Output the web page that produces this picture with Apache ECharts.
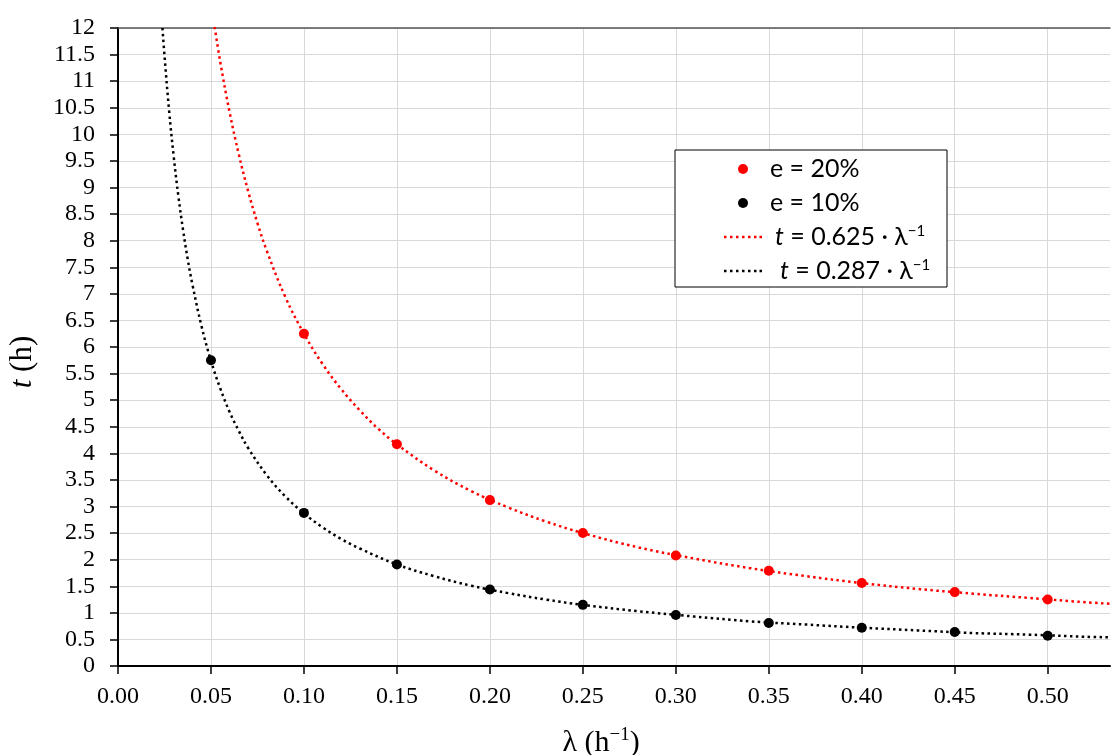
<!DOCTYPE html>
<html>
<head>
<meta charset="utf-8">
<script src="https://cdn.jsdelivr.net/npm/echarts@6/dist/echarts.min.js"></script>
<style>
html,body{margin:0;padding:0;background:#fff;}
#c{width:1111px;height:755px;}
</style>
</head>
<body>
<div id="c"></div>
<script>
// Measured points
const lambdaPts = [0.05, 0.10, 0.15, 0.20, 0.25, 0.30, 0.35, 0.40, 0.45, 0.50];
const t20 = [null, 6.25, 4.17, 3.12, 2.50, 2.08, 1.79, 1.56, 1.39, 1.25];
const t10 = [5.75, 2.88, 1.91, 1.44, 1.15, 0.96, 0.81, 0.72, 0.64, 0.57];

// Fitted curves
const fit20Lambda = [0.052, 0.055, 0.06, 0.065, 0.07, 0.075, 0.08, 0.09, 0.10, 0.11, 0.12, 0.13, 0.14, 0.15, 0.17, 0.19, 0.21, 0.23, 0.25, 0.28, 0.31, 0.34, 0.37, 0.40, 0.43, 0.46, 0.49, 0.52, 0.534];
const fit20T = [12.02, 11.36, 10.42, 9.62, 8.93, 8.33, 7.81, 6.94, 6.25, 5.68, 5.21, 4.81, 4.46, 4.17, 3.68, 3.29, 2.98, 2.72, 2.50, 2.23, 2.02, 1.84, 1.69, 1.56, 1.45, 1.36, 1.28, 1.20, 1.17];
const fit10Lambda = [0.0239, 0.025, 0.0275, 0.03, 0.0325, 0.035, 0.0375, 0.04, 0.045, 0.05, 0.055, 0.06, 0.065, 0.07, 0.08, 0.09, 0.10, 0.11, 0.12, 0.13, 0.15, 0.17, 0.19, 0.21, 0.23, 0.25, 0.28, 0.31, 0.34, 0.37, 0.40, 0.43, 0.46, 0.49, 0.52, 0.534];
const fit10T = [12.0, 11.48, 10.44, 9.57, 8.83, 8.20, 7.65, 7.18, 6.38, 5.74, 5.22, 4.78, 4.42, 4.10, 3.59, 3.19, 2.87, 2.61, 2.39, 2.21, 1.91, 1.69, 1.51, 1.37, 1.25, 1.15, 1.03, 0.93, 0.84, 0.78, 0.72, 0.67, 0.62, 0.59, 0.55, 0.54];

const legendNames = ['e = 20%', 'e = 10%', 'fit20', 'fit10'];
const legendLabels = {
  'e = 20%': 'e = 20%',
  'e = 10%': 'e = 10%',
  'fit20': '{it|t} = 0.625 · λ{sup|−1}',
  'fit10': '{it|t} = 0.287 · λ{sup|−1}'
};

const zip = (xs, ys) => xs.map((x, i) => [x, ys[i]]).filter(p => p[1] !== null);

const serif = '"Liberation Serif", "Times New Roman", serif';
const sans = 'Lato, "Open Sans", sans-serif';
const dottedIcon = 'path://M0,0h2.5v2.5h-2.5z M6,0h2.5v2.5h-2.5z M12,0h2.5v2.5h-2.5z M18,0h2.5v2.5h-2.5z M24,0h2.5v2.5h-2.5z M30,0h2.5v2.5h-2.5z M35.5,0h2.5v2.5h-2.5z';

const chart = echarts.init(document.getElementById('c'));
chart.setOption({
  animation: false,
  backgroundColor: '#fff',
  grid: { left: 118, right: 1, top: 28, bottom: 89, containLabel: false, outerBoundsMode: 'none' },
  graphic: [{
    type: 'rect',
    shape: { x: 675, y: 150, width: 272, height: 137 },
    style: { fill: '#fff', stroke: '#000', lineWidth: 1 },
    z: 5
  }],
  legend: {
    orient: 'vertical',
    left: 719,
    top: 151,
    itemWidth: 38,
    itemHeight: 10,
    itemGap: 8,
    z: 10,
    data: [
      { name: legendNames[0], icon: 'circle', textStyle: { padding: [0, 0, 0, 3] } },
      { name: legendNames[1], icon: 'circle', textStyle: { padding: [0, 0, 0, 3] } },
      { name: legendNames[2], icon: dottedIcon, textStyle: { padding: [0, 0, 0, 8] } },
      { name: legendNames[3], icon: dottedIcon, textStyle: { padding: [0, 0, 0, 13] } }
    ],
    formatter: n => legendLabels[n],
    textStyle: {
      fontFamily: sans, fontSize: 25, color: '#000', lineHeight: 26,
      rich: {
        it: { fontStyle: 'italic', fontFamily: sans, fontSize: 25, lineHeight: 26 },
        sup: { fontFamily: sans, fontSize: 15, lineHeight: 15, verticalAlign: 'top' }
      }
    }
  },
  xAxis: [{
    type: 'value',
    min: 0, max: 0.5335, interval: 0.05,
    name: 'λ (h{sup|−1})',
    nameLocation: 'middle',
    nameGap: 60,
    nameTextStyle: {
      fontFamily: serif, fontSize: 30, color: '#000', lineHeight: 34, padding: [0, 26, 0, 0],
      rich: { sup: { fontFamily: serif, fontSize: 19, lineHeight: 19, verticalAlign: 'top' } }
    },
    axisLine: { lineStyle: { color: '#000', width: 2 } },
    axisTick: { show: true, length: 8, lineStyle: { color: '#000', width: 1.5 } },
    axisLabel: {
      fontFamily: serif, fontSize: 24, color: '#000', margin: 19,
      showMaxLabel: false,
      formatter: v => v.toFixed(2)
    },
    splitLine: { show: true, showMaxLine: false, lineStyle: { color: '#d9d9d9', width: 1 } }
  }, {
    type: 'value',
    position: 'top',
    min: 0, max: 0.5335,
    axisLine: { show: true, lineStyle: { color: '#555', width: 1.5 } },
    axisTick: { show: false },
    axisLabel: { show: false },
    splitLine: { show: false }
  }],
  yAxis: {
    type: 'value',
    min: 0, max: 12, interval: 0.5,
    name: '{it|t} (h)',
    nameLocation: 'middle',
    nameGap: 80,
    nameRotate: 90,
    nameTextStyle: {
      fontFamily: serif, fontSize: 31, color: '#000',
      padding: [0, 30, 0, 0],
      rich: { it: { fontStyle: 'italic', fontFamily: serif, fontSize: 31 } }
    },
    axisLine: { show: true, lineStyle: { color: '#000', width: 2 } },
    axisTick: { show: true, length: 8, lineStyle: { color: '#000', width: 1.5 } },
    axisLabel: { fontFamily: serif, fontSize: 24, color: '#000', margin: 23 },
    splitLine: { show: true, lineStyle: { color: '#d9d9d9', width: 1 } }
  },
  series: [
    {
      name: legendNames[0], type: 'scatter',
      data: zip(lambdaPts, t20),
      symbol: 'circle', symbolSize: 10,
      itemStyle: { color: '#ff0000', opacity: 1 }, z: 4
    },
    {
      name: legendNames[1], type: 'scatter',
      data: zip(lambdaPts, t10),
      symbol: 'circle', symbolSize: 10,
      itemStyle: { color: '#000000', opacity: 1 }, z: 4
    },
    {
      name: legendNames[2], type: 'line',
      data: zip(fit20Lambda, fit20T),
      showSymbol: false, symbol: 'none',
      smooth: 0.4,
      lineStyle: { color: '#ff0000', width: 2.5, type: [2.5, 3.4] },
      itemStyle: { color: '#ff0000' }, z: 3
    },
    {
      name: legendNames[3], type: 'line',
      data: zip(fit10Lambda, fit10T),
      showSymbol: false, symbol: 'none',
      smooth: 0.4,
      lineStyle: { color: '#000000', width: 2.5, type: [2.5, 3.4] },
      itemStyle: { color: '#000000' }, z: 3
    }
  ]
});
</script>
</body>
</html>
